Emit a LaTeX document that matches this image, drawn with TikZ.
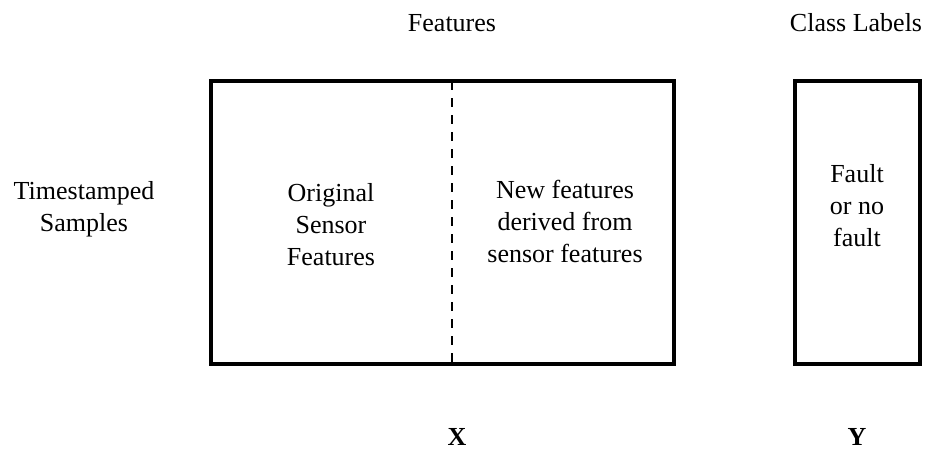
\documentclass[tikz,border=0pt]{standalone}
\usepackage{fontspec}
\setmainfont{Liberation Serif}
\begin{document}
\begin{tikzpicture}[x=1pt, y=-1pt,
    box/.style={line width=4pt, line join=miter},
    split/.style={line width=2.2pt, dash pattern=on 9pt off 8pt},
    lbl/.style={font=\fontsize{26}{32}\selectfont, align=center, inner sep=0pt},
    mat/.style={font=\fontsize{26}{32}\selectfont\bfseries, inner sep=0pt, anchor=base}]
\useasboundingbox (0,0) rectangle (927,451);
% data matrix
\coordinate (xtl) at (211,81);
\coordinate (xbr) at (674,364);
\coordinate (mtop) at (452,81);
\coordinate (mbot) at (452,364);
\draw[box] (xtl) rectangle (xbr);
\draw[split] (mtop) -- (mbot);
% label column
\coordinate (ytl) at (795,81);
\coordinate (ybr) at (920,364);
\draw[box] (ytl) rectangle (ybr);
% texts
\node[lbl, anchor=base] (feat) at (452,31) {Features};
\node[lbl, anchor=base] (cls) at (856,31) {Class Labels};
\node[lbl] (rows) at (84,209) {Timestamped\\Samples};
\node[lbl] (orig) at (331,225) {Original\\Sensor\\Features};
\node[lbl] (new) at (565,221) {New features\\derived from\\sensor features};
\node[lbl] (fault) at (857,206) {Fault\\or no\\fault};
\node[mat] (xm) at (457,445) {X};
\node[mat] (ym) at (857,445) {Y};
\end{tikzpicture}
\end{document}
